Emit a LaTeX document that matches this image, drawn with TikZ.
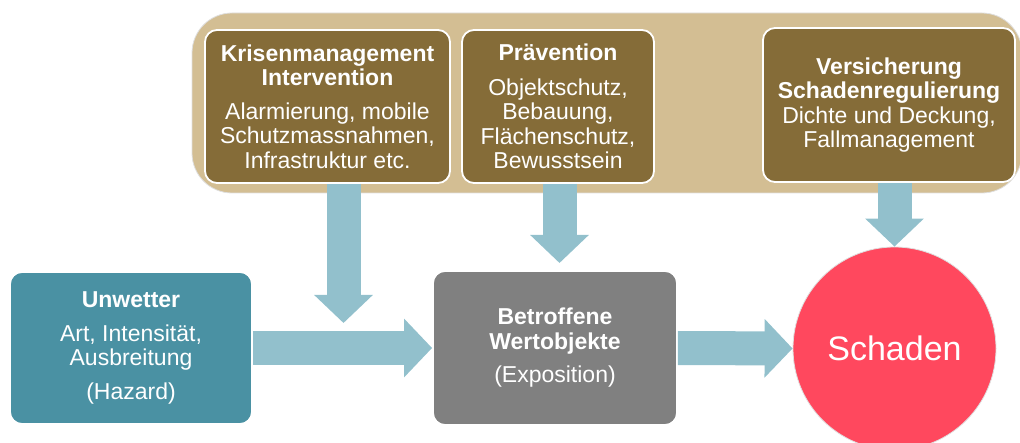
\documentclass[tikz,border=0pt]{standalone}
\usepackage{fontspec}
\setmainfont{Liberation Sans}
\usetikzlibrary{arrows.meta}
\definecolor{bandtan}{HTML}{D3BE93}
\definecolor{boxbrown}{HTML}{856C38}
\definecolor{unwteal}{HTML}{4A91A3}
\definecolor{expgray}{HTML}{808080}
\definecolor{schadred}{HTML}{FF485E}
\definecolor{arrowblue}{HTML}{92C0CC}
\begin{document}
\begin{tikzpicture}[x=1pt,y=-1pt,
  box/.style={rounded corners=12pt, draw=white, line width=1.8pt, inner sep=0pt,
    text=white, align=center, font=\fontsize{23}{24.5}\selectfont},
  brownbox/.style={box, fill=boxbrown},
  blockarrow/.style={draw=arrowblue, line width=34pt, -{Triangle[width=57pt,length=28pt]}},
]
\useasboundingbox (0,0) rectangle (1020,443);
% background band
\node[draw=gray!25, line width=0.8pt, fill=bandtan, rounded corners=40pt,
  minimum width=830pt, minimum height=180pt, inner sep=0pt] (band) at (607,103) {};
% end coordinates of the free down arrows
\coordinate (t1) at (343.5,323);
\coordinate (t2) at (559.5,263);
% nodes
\node[brownbox, minimum width=245pt, minimum height=153pt] (k) at (327.5,106.5)
  {\textbf{Krisenmanagement}\\ \textbf{Intervention}\\[9pt] Alarmierung, mobile\\ Schutzmassnahmen,\\ Infrastruktur etc.};
\node[brownbox, minimum width=192pt, minimum height=153pt] (p) at (558,106.5)
  {\textbf{Prävention}\\[10pt] Objektschutz,\\ Bebauung,\\ Flächenschutz,\\ Bewusstsein};
\node[brownbox, minimum width=252pt, minimum height=154pt] (v) at (889,105)
  {\textbf{Versicherung}\\ \textbf{Schadenregulierung}\\ Dichte und Deckung,\\ Fallmanagement};
\node[box, fill=unwteal, minimum width=242pt, minimum height=152pt] (u) at (131,348)
  {\textbf{Unwetter}\\[9pt] Art, Intensität,\\ Ausbreitung\\[9pt] (Hazard)};
\node[box, fill=expgray, minimum width=244pt, minimum height=154pt] (g) at (555,348)
  {\textbf{Betroffene}\\ \textbf{Wertobjekte}\\[9pt] (Exposition)};
\node[circle, fill=schadred, draw=gray!25, line width=0.8pt, minimum size=203pt, inner sep=0pt,
  text=white, font=\fontsize{34}{40}\selectfont] (s) at (894.5,348.5) {Schaden};
% arrows
\begin{scope}[on background layer/.style={}]
\draw[blockarrow] (t1 |- k.south) -- (t1);
\draw[blockarrow] (t2 |- p.south) -- (t2);
\draw[blockarrow] (s.north |- v.south) -- (s.north);
\draw[blockarrow] (u.east) -- (g.west);
\draw[blockarrow] (g.east) -- (s.west);
\end{scope}
\end{tikzpicture}
\end{document}
